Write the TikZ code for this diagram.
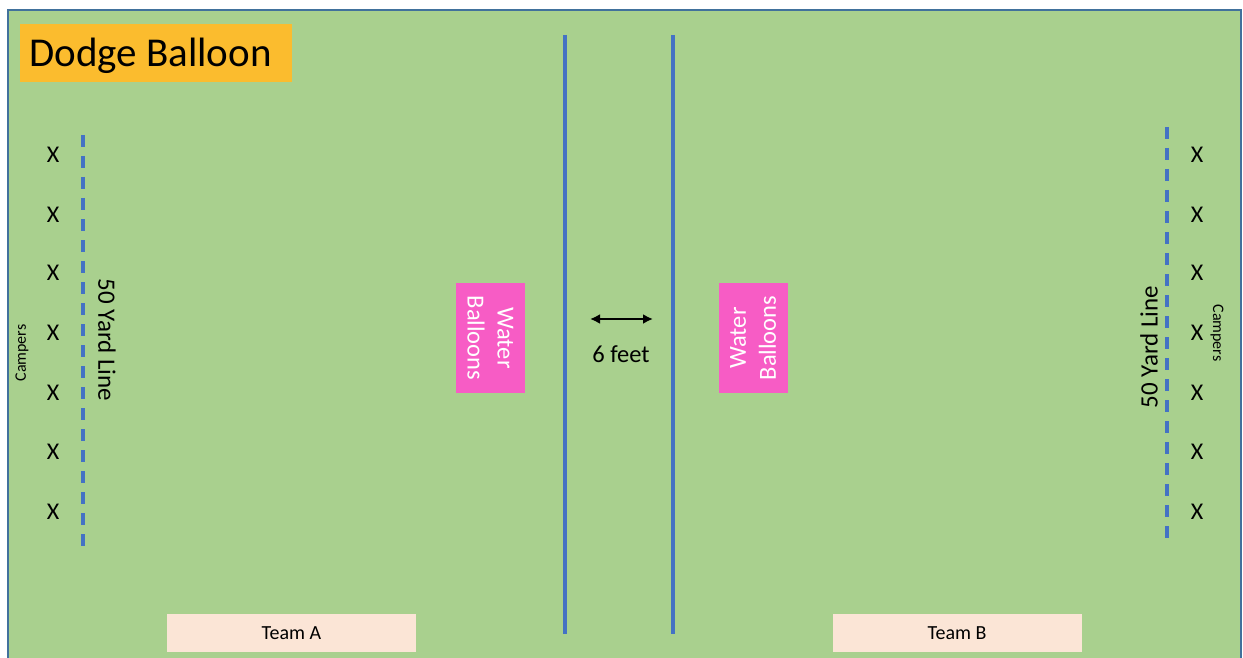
\documentclass[tikz,border=0pt]{standalone}
\usepackage{fontspec}
\setmainfont{Carlito}
\usetikzlibrary{arrows.meta}
\definecolor{field}{HTML}{A9D08E}
\definecolor{fieldedge}{HTML}{41719C}
\definecolor{linecol}{HTML}{4472C4}
\definecolor{titlecol}{HTML}{FBBC2E}
\definecolor{pinkbox}{HTML}{F75CC5}
\definecolor{teambox}{HTML}{FBE5D6}
\tikzset{
  fs/.style={font=\fontsize{#1}{#1}\selectfont},
  xmark/.style={fs=24, inner sep=0pt},
  yardlbl/.style={fs=25, inner sep=0pt},
  camplbl/.style={fs=16, inner sep=0pt},
  balloonbox/.style={fill=pinkbox, text=white, minimum width=110pt, minimum height=69pt, inner sep=0pt, align=center, font=\fontsize{24.5}{30}\selectfont},
  teamnode/.style={fill=teambox, minimum width=249pt, minimum height=38pt, inner sep=0pt, fs=20},
  divider/.style={linecol, line width=3.5pt},
  yardline/.style={linecol, line width=3.5pt, dash pattern=on 12pt off 9pt}
}
\begin{document}
\begin{tikzpicture}[x=1pt,y=-1pt]
\useasboundingbox (0,0) rectangle (1243,658);
% field
\fill[field] (8,10) rectangle (1241,658);
\draw[fieldedge, line width=1.2pt] (8,658) -- (8,10) -- (1241,10) -- (1241,658);
% title
\node[fill=titlecol, minimum width=272pt, minimum height=58pt, inner sep=0pt] (title) at (156,53) {};
\node[fs=41, inner sep=0pt, anchor=west] (titletext) at (29,56) {Dodge Balloon};
% dividers
\coordinate (d1t) at (565,35); \coordinate (d1b) at (565,634);
\coordinate (d2t) at (673,35); \coordinate (d2b) at (673,634);
\draw[divider] (d1t) -- (d1b);
\draw[divider] (d2t) -- (d2b);
% yard lines
\coordinate (ylt) at (83,135); \coordinate (ylb) at (83,550);
\coordinate (yrt) at (1167,127); \coordinate (yrb) at (1167,543);
\draw[yardline] (ylt) -- (ylb);
\draw[yardline] (yrt) -- (yrb);
% X marks
\foreach \y [count=\i] in {155,215,273,333,393,452,512} {
  \node[xmark] (xl\i) at (53,\y) {X};
  \node[xmark] (xr\i) at (1197,\y) {X};
}
% labels
\node[yardlbl, rotate=-90] (yl) at (107,340) {50 Yard Line};
\node[yardlbl, rotate=90] (yr) at (1149,347) {50 Yard Line};
\node[camplbl, rotate=90] (cl) at (22,353) {Campers};
\node[camplbl, rotate=-90] (cr) at (1217,333) {Campers};
% water balloons
\node[balloonbox, rotate=-90] (wbl) at (490.5,338) {Water\\Balloons};
\node[balloonbox, rotate=90] (wbr) at (753,338) {Water\\Balloons};
% distance arrow
\coordinate (al) at (590,319); \coordinate (ar) at (653,319);
\draw[line width=2.8pt, {Latex[length=10pt,width=10pt]}-{Latex[length=10pt,width=10pt]}] (al) -- (ar);
\node[fs=24.5, inner sep=0pt] (six) at (621,354) {6 feet};
% teams
\node[teamnode] (ta) at (291.5,633) {Team A};
\node[teamnode] (tb) at (957,633) {Team B};
\end{tikzpicture}
\end{document}
